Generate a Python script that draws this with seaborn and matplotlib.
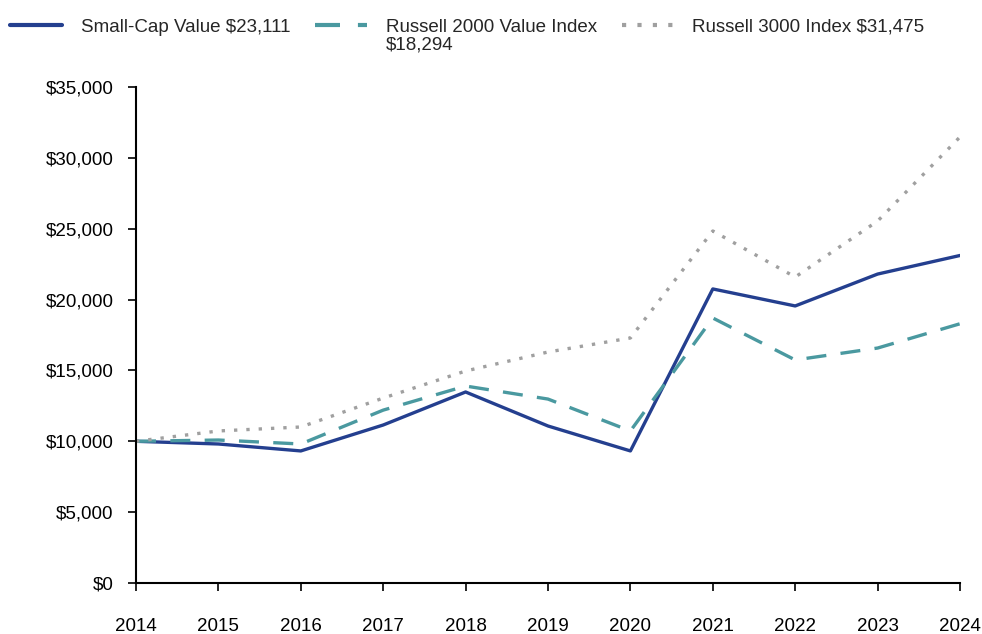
import pandas as pd
import seaborn as sns
import matplotlib.pyplot as plt
from matplotlib.ticker import StrMethodFormatter

years = list(range(2014, 2025))
small_cap = [10000, 9810, 9320, 11150, 13480, 11080, 9320, 20750, 19550, 21800, 23111]
r2000_value = [10000, 10090, 9810, 12200, 13900, 12980, 10730, 18700, 15740, 16580, 18294]
r3000 = [10000, 10730, 11010, 13050, 14960, 16300, 17290, 24840, 21590, 25540, 31475]

names = [
    "Small-Cap Value $23,111",
    "Russell 2000 Value Index",
    "Russell 3000 Index $31,475",
]
name2_cont = "$18,294"
colors = ["#243f8f", "#4a99a0", "#a0a0a0"]

df = pd.DataFrame({
    "Year": years * 3,
    "Value": small_cap + r2000_value + r3000,
    "Series": [names[0]] * 11 + [names[1]] * 11 + [names[2]] * 11,
})

sns.set_style("white")
plt.rcParams["font.family"] = ["Liberation Sans", "DejaVu Sans"]

fig = plt.figure(figsize=(9.82, 6.34), dpi=100)
ax = fig.add_axes([0.1385, 0.0804, 0.8391, 0.7824])

sns.lineplot(
    data=df, x="Year", y="Value", hue="Series", style="Series",
    palette=dict(zip(names, colors)),
    dashes={names[0]: "", names[1]: (6, 4.3), names[2]: (1, 2.7)},
    linewidth=2.4, ax=ax, legend=True,
)
for line in ax.get_lines():
    line.set_dash_capstyle("butt")

ax.set_xlim(2014, 2024)
ax.set_ylim(0, 35000)
ax.set_xticks(years)
ax.set_yticks(range(0, 35001, 5000))
ax.yaxis.set_major_formatter(StrMethodFormatter("${x:,.0f}"))
ax.set_xlabel("")
ax.set_ylabel("")
ax.tick_params(axis="both", labelsize=13.5, colors="black", length=6, width=1.2,
               left=True, bottom=True)
ax.tick_params(axis="x", pad=19)
ax.tick_params(axis="y", pad=10)
for side in ["top", "right"]:
    ax.spines[side].set_visible(False)
for side in ["left", "bottom"]:
    ax.spines[side].set_color("black")
    ax.spines[side].set_linewidth(1.5)

handles, labels = ax.get_legend_handles_labels()
ax.get_legend().remove()
leg = fig.legend(handles, labels, loc="upper left", bbox_to_anchor=(0.0, 0.987),
                 ncol=3, frameon=False, fontsize=13.5, handlelength=2.75,
                 columnspacing=1.35, handletextpad=1.0, borderaxespad=0.15)
for h in leg.legend_handles:
    h.set_linewidth(3)

# second line of the wrapped legend label
fig.canvas.draw()
bb = leg.get_texts()[1].get_window_extent().transformed(fig.transFigure.inverted())
fig.text(bb.x0, bb.y0 - 0.002, name2_cont, fontsize=13.5, va="top", ha="left")

fig.savefig("out.png", dpi=100)
